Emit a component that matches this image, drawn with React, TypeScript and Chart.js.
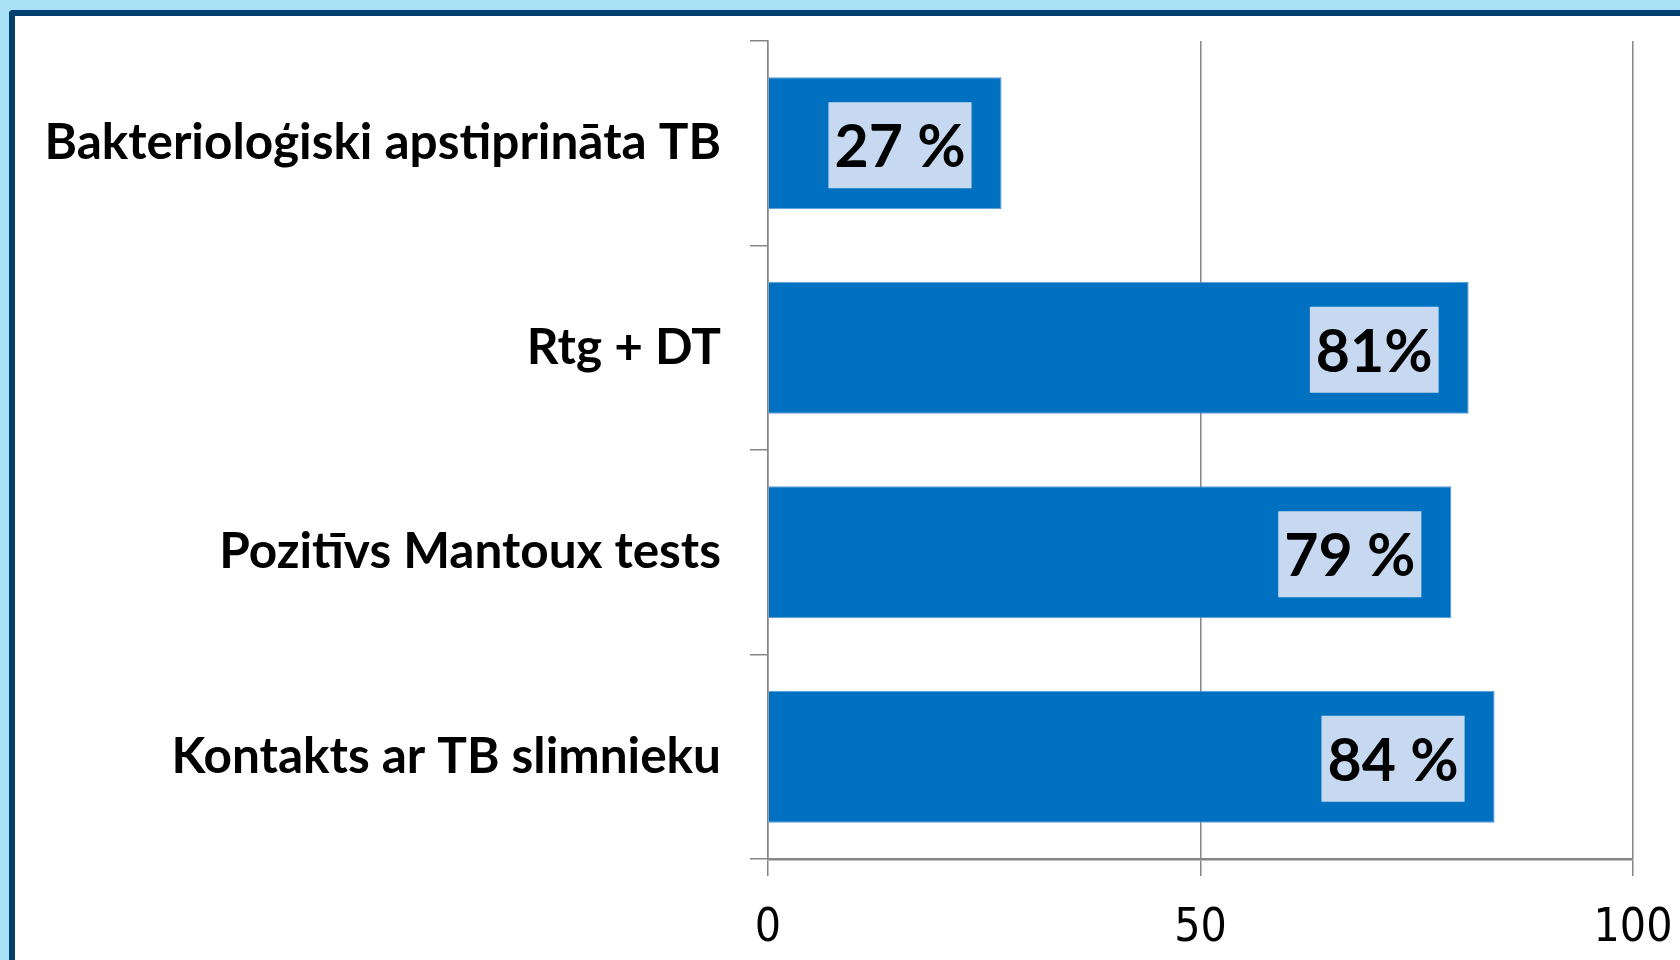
import React, { useEffect, useRef } from "react";
import { Chart, registerables } from "chart.js";

Chart.register(...registerables);

const categories = [
  "Bakterioloģiski apstiprināta TB",
  "Rtg + DT",
  "Pozitīvs Mantoux tests",
  "Kontakts ar TB slimnieku",
];
const values = [27, 81, 79, 84];
const valueLabels = ["27 %", "81%", "79 %", "84 %"];
const xTicks = [0, 50, 100];

const labelBoxPlugin = {
  id: "labelBoxes",
  afterDatasetsDraw(chart: any) {
    const ctx = chart.ctx;
    const meta = chart.getDatasetMeta(0);
    ctx.save();
    ctx.font = "bold 59px Lato";
    meta.data.forEach((bar: any, i: number) => {
      const text = valueLabels[i];
      const w = ctx.measureText(text).width + 12;
      const h = 86;
      const right = bar.x - 30;
      const top = bar.y - h / 2 + 2;
      ctx.fillStyle = "#C6D9F1";
      ctx.fillRect(right - w, top, w, h);
      ctx.fillStyle = "#000000";
      ctx.textAlign = "center";
      ctx.textBaseline = "middle";
      ctx.fillText(text, right - w / 2, top + h / 2 + 3);
    });
    ctx.restore();
  },
};

export default function App() {
  const ref = useRef<HTMLCanvasElement | null>(null);

  useEffect(() => {
    if (!ref.current) return;
    const chart = new Chart(ref.current, {
      type: "bar",
      data: {
        labels: categories,
        datasets: [
          {
            data: values,
            backgroundColor: "#0070C0",
            borderColor: "#5B9BD5",
            borderWidth: 1,
            barPercentage: 0.645,
            categoryPercentage: 1,
          },
        ],
      },
      options: {
        indexAxis: "y",
        animation: false,
        responsive: false,
        maintainAspectRatio: false,
        layout: { padding: { top: 41, right: 47, left: 0, bottom: 0 } },
        plugins: {
          legend: { display: false },
          tooltip: { enabled: false },
        },
        scales: {
          x: {
            type: "linear",
            position: "bottom",
            min: 0,
            max: 100,
            afterBuildTicks: (s: any) => {
              s.ticks = xTicks.map((v) => ({ value: v }));
            },
            afterFit: (s: any) => {
              s.height = 101;
              s.paddingLeft = 0;
              s.paddingRight = 0;
            },
            grid: {
              color: "#868686",
              lineWidth: 1.5,
              tickLength: 17,
              drawOnChartArea: true,
            },
            border: { display: true, color: "#868686", width: 2.5 },
            ticks: {
              color: "#000000",
              padding: 25,
              maxRotation: 0,
              font: {
                family: "'Liberation Sans Narrow', 'DejaVu Sans Condensed', sans-serif",
                size: 46,
              },
            },
          },
          y: {
            type: "category",
            afterFit: (s: any) => {
              s.width = 768;
              s.paddingTop = 0;
              s.paddingBottom = 0;
            },
            grid: {
              color: "#868686",
              lineWidth: 1.5,
              tickLength: 18,
              drawOnChartArea: false,
              drawTicks: true,
            },
            border: { display: true, color: "#868686", width: 1.5 },
            ticks: {
              color: "#000000",
              padding: 29,
              font: { family: "Lato", weight: "bold", size: 49.5 },
            },
          },
        },
      },
      plugins: [labelBoxPlugin],
    });
    return () => chart.destroy();
  }, []);

  return (
    <div
      style={{
        position: "fixed",
        left: 0,
        top: 0,
        width: 1680,
        height: 960,
        overflow: "hidden",
        background: "#A9E2F6",
      }}
    >
      <div
        style={{
          position: "absolute",
          left: 9,
          top: 10,
          width: 1720,
          height: 1000,
          background: "#FFFFFF",
          borderTop: "6px solid #03406F",
          borderLeft: "6px solid #03406F",
          borderTopLeftRadius: 4,
        }}
      />
      <canvas
        ref={ref}
        width={1680}
        height={960}
        style={{ position: "absolute", left: 0, top: 0, width: 1680, height: 960 }}
      />
    </div>
  );
}
